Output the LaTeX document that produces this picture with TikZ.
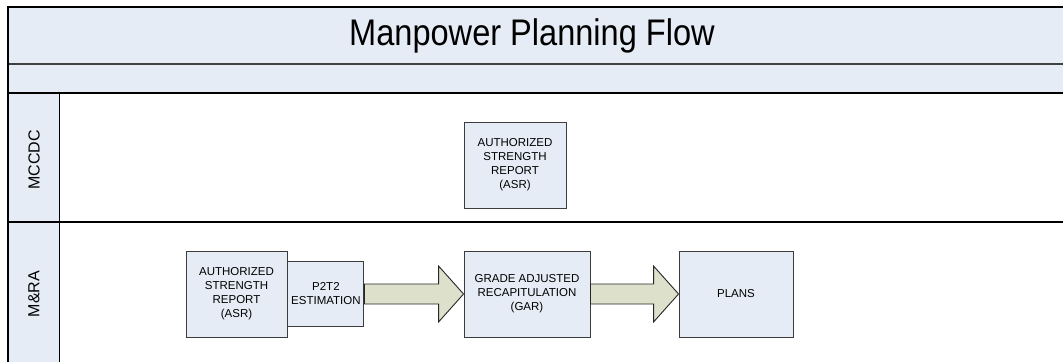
\documentclass[tikz,border=0pt]{standalone}
\usepackage{fontspec}
\setmainfont{Liberation Sans}
\usetikzlibrary{positioning,calc}

\definecolor{lanefill}{RGB}{229,236,246}
\definecolor{arrowfill}{RGB}{221,224,203}
\definecolor{boxline}{RGB}{60,60,60}

\tikzset{
  procbox/.style={draw=boxline, line width=0.9pt, fill=lanefill, align=center, inner sep=0pt,
    text=black, font=\fontsize{11.5}{14}\selectfont},
  fatarrow/.style={draw=black!85, line width=0.9pt, fill=arrowfill, line join=miter},
  lanelabel/.style={rotate=90, font=\fontsize{16}{18}\selectfont},
  laneline/.style={line width=1.3pt},
}

\begin{document}
\begin{tikzpicture}[x=1pt, y=-1pt]
        \useasboundingbox (0,0) rectangle (1063,362);

        % title bands and lane header column
        \fill[lanefill] (8,7) rectangle (1063,93);
        \fill[lanefill] (8,93) rectangle (59,362);
        \draw[black!75, line width=1.1pt] (8,64) -- (1063,64);
        \draw[laneline] (8,93) -- (1063,93);
        \draw[laneline] (8,222) -- (1063,222);
        \draw[line width=1pt] (59,93) -- (59,362);
        \draw[laneline] (8,362) -- (8,7) -- (1063,7);

        \node[font=\fontsize{37}{40}\selectfont] (title) at (532,36)
          {\scalebox{0.88}[1]{Manpower Planning Flow}};
        \node[lanelabel] (mccdc) at (34,160) {MCCDC};
        \node[lanelabel] (mra) at (34,294) {M\&RA};

        % process boxes
        \node[procbox, minimum width=102pt, minimum height=86pt] (asrtop) at (515,165)
          {AUTHORIZED\\STRENGTH\\REPORT\\(ASR)};
        \node[procbox, minimum width=101pt, minimum height=86pt] (asr) at (236.5,294)
          {AUTHORIZED\\STRENGTH\\REPORT\\(ASR)};
        \node[procbox, minimum width=76pt, minimum height=65pt, right=0pt of asr] (p2t2)
          {P2T2\\ESTIMATION};
        \node[procbox, minimum width=126pt, minimum height=86pt] (gar) at (527,294)
          {GRADE ADJUSTED\\RECAPITULATION\\(GAR)};
        \node[procbox, minimum width=114pt, minimum height=86pt] (plans) at (736,294) {PLANS};

        % block arrows
        \draw[fatarrow] ($(p2t2.east)+(0,-10)$) -- ($(gar.west)+(-25,-10)$) -- ($(gar.west)+(-25,-28)$)
          -- (gar.west) -- ($(gar.west)+(-25,28)$) -- ($(gar.west)+(-25,10)$) -- ($(p2t2.east)+(0,10)$) -- cycle;
        \draw[fatarrow] ($(gar.east)+(0,-10)$) -- ($(plans.west)+(-25,-10)$) -- ($(plans.west)+(-25,-28)$)
          -- (plans.west) -- ($(plans.west)+(-25,28)$) -- ($(plans.west)+(-25,10)$) -- ($(gar.east)+(0,10)$) -- cycle;
\end{tikzpicture}
\end{document}
